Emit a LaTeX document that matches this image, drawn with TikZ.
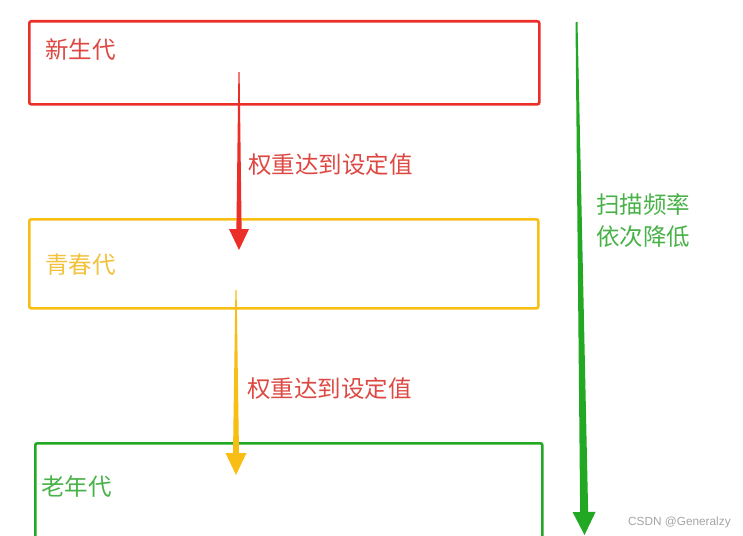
\documentclass[tikz,border=0pt]{standalone}
\usepackage{fontspec}
\setmainfont{Liberation Sans}
\newfontfamily\cjk{Noto Sans CJK SC}
\usetikzlibrary{calc}
\definecolor{cred}{RGB}{236,46,40}
\definecolor{cyel}{RGB}{248,190,20}
\definecolor{cgrn}{RGB}{34,168,34}
\definecolor{tred}{RGB}{222,72,66}
\definecolor{tyel}{RGB}{242,194,60}
\definecolor{tgrn}{RGB}{72,178,72}
\definecolor{wm}{RGB}{165,165,165}
\newcommand{\taperarrow}[7]{%
  \coordinate (tmpc) at ($(#3)!#7!(#2)$);
  \fill[#1] ($(#2)!#4!90:(#3)$) -- ($(tmpc)!#5!90:(#3)$) -- ($(tmpc)!#6!90:(#3)$)
    -- (#3) -- ($(tmpc)!#6!-90:(#3)$) -- ($(tmpc)!#5!-90:(#3)$) -- ($(#2)!#4!-90:(#3)$) -- cycle;}
\begin{document}
\begin{tikzpicture}[x=1pt,y=-1pt,
  box/.style={draw, line width=2.6pt, rounded corners=2pt, anchor=north west, inner sep=0pt},
  lbl/.style={font=\cjk\fontsize{23.5}{28}\selectfont, anchor=west, inner sep=0pt}]
\clip (0,0) rectangle (743,535);
\fill[white] (0,0) rectangle (743,535);
% boxes
\node[box, draw=cred, minimum width=510pt, minimum height=83pt] (young) at (28,20) {};
\node[box, draw=cyel, minimum width=509pt, minimum height=89pt] (youth) at (28,218) {};
\node[box, draw=cgrn, minimum width=507pt, minimum height=120pt] (old) at (34,442) {};
% box labels
\node[lbl, text=tred] (tyoung) at (45,50) {新生代};
\node[lbl, text=tyel] (tyouth) at (45,265) {青春代};
\node[lbl, text=tgrn] (told) at (41,487) {老年代};
% arrows
\coordinate (r1) at (239,72);
\coordinate (r2) at (239,250);
\coordinate (y1) at (236,290);
\coordinate (y2) at (236,475);
\coordinate (g1) at (576.5,22);
\coordinate (g2) at (584.5,535);
\taperarrow{cred}{r1}{r2}{0.6pt}{2.6pt}{10pt}{21pt}
\taperarrow{cyel}{y1}{y2}{0.6pt}{3pt}{10.5pt}{22pt}
\taperarrow{cgrn}{g1}{g2}{1pt}{4pt}{11.5pt}{23pt}
% arrow labels
\node[lbl, text=tred] (l1) at (248,165) {权重达到设定值};
\node[lbl, text=tred] (l2) at (247,389) {权重达到设定值};
\node[lbl, text=tgrn] (l3) at (596,205) {扫描频率};
\node[lbl, text=tgrn] (l4) at (596,237) {依次降低};
% watermark
\node[anchor=west, inner sep=0pt, text=wm, font=\fontsize{11.8}{14}\selectfont] (wmk) at (628,522) {CSDN @Generalzy};
\end{tikzpicture}
\end{document}
